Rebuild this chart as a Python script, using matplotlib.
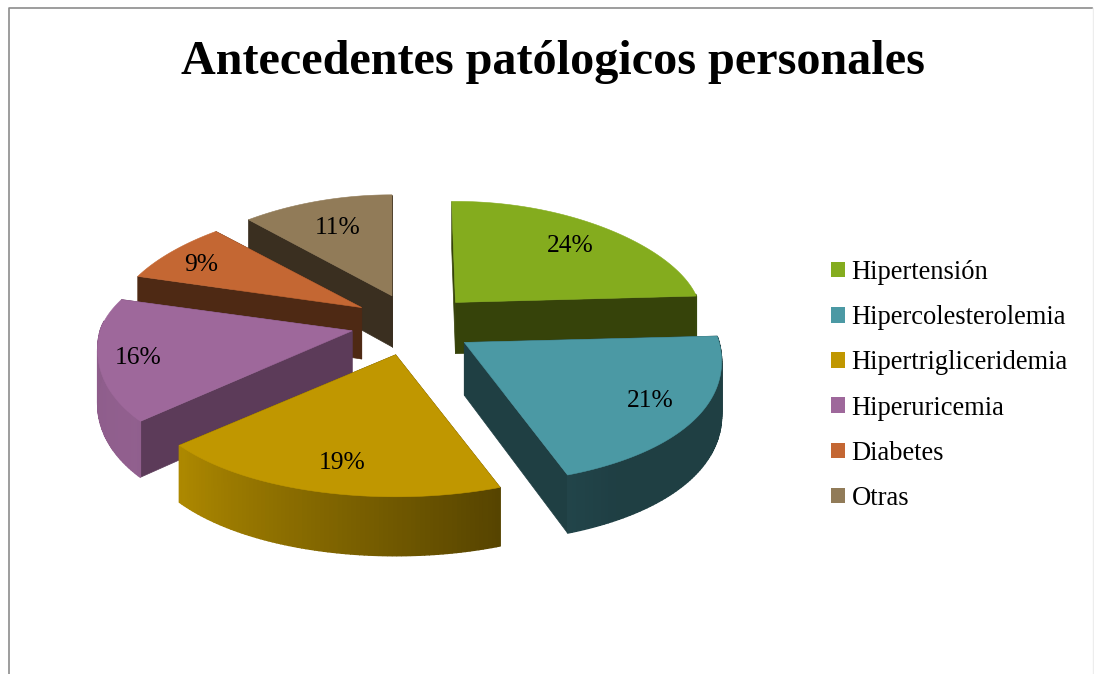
import numpy as np
import matplotlib
matplotlib.use("Agg")
import matplotlib.pyplot as plt
from matplotlib.patches import Patch

# andmed
labels = ["Hipertensión", "Hipercolesterolemia", "Hipertrigliceridemia", "Hiperuricemia", "Diabetes", "Otras"]
values = [24, 21, 19, 16, 9, 11]
top_colors = ["#84AC1E", "#4B99A4", "#C09700", "#9E689B", "#C46733", "#917B58"]
wall_colors = ["#36430A", "#1F3F43", "#564000", "#5C3B59", "#4E2914", "#3A2F20"]
draw_order = [5, 4, 0, 3, 1, 2]

# siltide kohad pildil
label_x = [570, 650, 342, 138, 201, 338]
label_y = [246, 401, 463, 358, 265, 228]

# vaade
cx, cy = 413, 325
rx, ry_back, ry_front = 252, 101, 142
explode, explode_y = 62, 0.5


def depth(y):
    return 52 + 0.04 * (y - 322)


def point(ax0, ay0, t):
    # t kraadides, 0 on ules ja kasvab paripaeva
    t = t + np.interp(t, [0, 87, 162, 230, 288, 320, 360], [-1, 0, -3, 0, 0, -1.5, 0])
    r = np.radians(t)
    c = np.cos(r)
    ry = np.where(c > 0, ry_back, ry_front)
    y = ay0 - ry * c
    persp = 1 + np.where(y > 331, 0.001, 0.0012) * (y - 331)
    return ax0 + rx * persp * np.sin(r), y


def shade(t):
    return np.interp(t, [150, 162, 232, 290], [0.41, 0.45, 0.92, 0.88])


def mix(color, k):
    rgb = np.array(matplotlib.colors.to_rgb(color))
    return tuple(rgb * k)


fig = plt.figure(figsize=(10.94, 6.74), dpi=100)
ax = fig.add_axes([0, 0, 1, 1])
ax.set_xlim(0, 1094)
ax.set_ylim(674, 0)
ax.axis("off")
plt.rcParams["font.family"] = ["Liberation Serif", "DejaVu Serif"]

ax.plot([8.5, 8.5, 1092], [674, 7.5, 7.5], color="#8C8C8C", lw=1.2)
ax.plot([1092.5, 1092.5], [8, 674], color="#EDEDED", lw=1)

edges = np.cumsum([0] + values) * 3.6

for i in draw_order:
    t0, t1 = edges[i], edges[i + 1]
    mid = np.radians((t0 + t1) / 2)
    ax0 = cx + explode * np.sin(mid)
    ay0 = cy - explode * explode_y * np.cos(mid)
    ts = np.linspace(t0, t1, 80)
    xs, ys = point(ax0, ay0, ts)

    # radiaalsed seinad
    for t in (t0, t1):
        x, y = point(ax0, ay0, t)
        ax.fill([ax0, x, x, ax0], [ay0, y, y + depth(y), ay0 + depth(ay0)],
                color=wall_colors[i], lw=0.5, zorder=1)

    # valimine kaar, ainult esiosa
    for j in range(len(ts) - 1):
        if ts[j] < 85 or ts[j] > 275:
            continue
        ax.fill([xs[j], xs[j + 1], xs[j + 1], xs[j]],
                [ys[j], ys[j + 1], ys[j + 1] + depth(ys[j + 1]), ys[j] + depth(ys[j])],
                color=mix(top_colors[i], shade(ts[j])), lw=1.0, zorder=1)

    ax.fill(np.r_[ax0, xs], np.r_[ay0, ys], color=top_colors[i], lw=0.4, zorder=1)

    ax.text(label_x[i], label_y[i], f"{values[i]}%", fontsize=18.4, color="black",
            ha="center", va="center", zorder=5)

ax.text(553, 62, "Antecedentes patólogicos personales", fontsize=34.7, fontweight="bold",
        ha="center", va="center", color="black")

handles = [Patch(facecolor=c, edgecolor="none") for c in top_colors]
ax.legend(handles, labels, loc="center left", bbox_to_anchor=(826, 385.5), bbox_transform=ax.transData,
          frameon=False, fontsize=19.1, handlelength=0.53, handleheight=0.53,
          handletextpad=0.23, labelspacing=0.762, borderpad=0.2, borderaxespad=0)

fig.savefig("out.png", dpi=100, facecolor="white")
